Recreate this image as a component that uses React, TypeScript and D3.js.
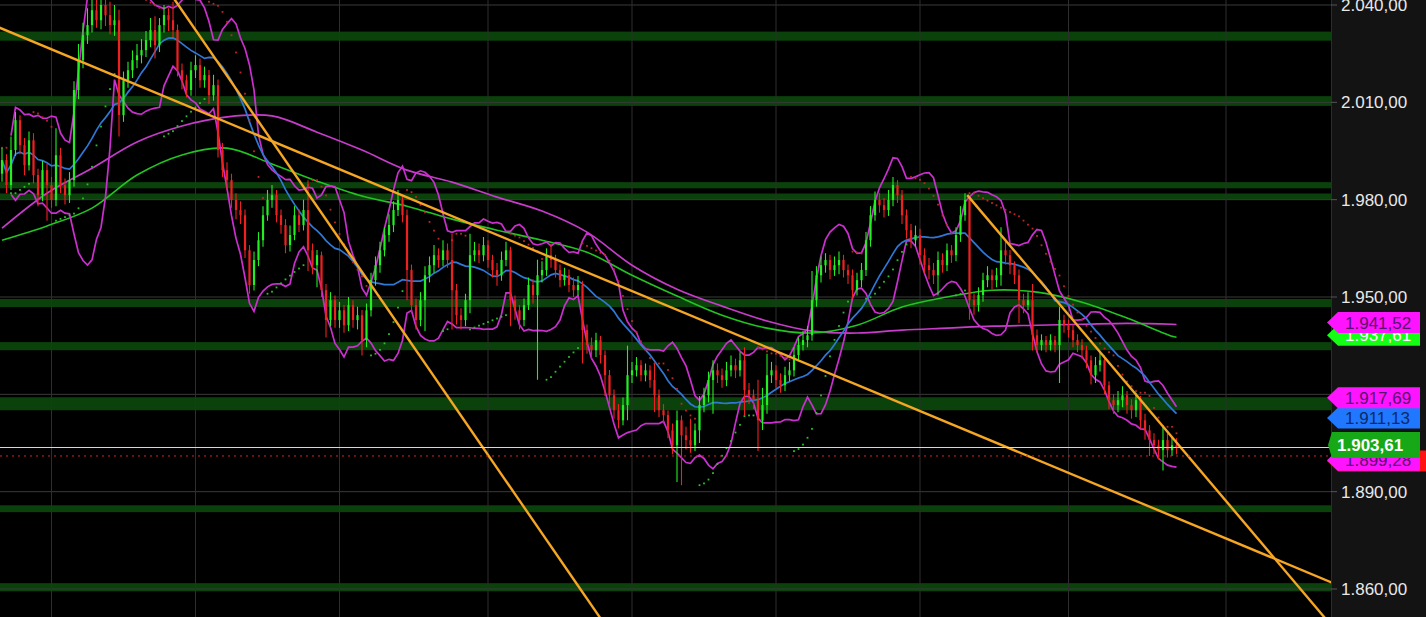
import React from "react";
import * as d3 from "d3";

const W = 1426;
const H = 617;
const PLOT_R = 1331;

// ---------- data ----------
const priceTicks = [2040, 2010, 1980, 1950, 1920, 1890, 1860];

const closes = [
  1992.2,1984.5,1995.3,2004.5,1996.8,1990.6,1998.3,1987.6,1981.4,1989.1,
  1984.5,1979.9,1993.7,1984.5,1981.4,1986.0,2013.8,2023.0,2030.7,2033.8,
  2038.4,2035.3,2040.0,2036.9,2033.8,2035.3,2006.1,2016.8,2019.9,2023.0,
  2024.5,2026.1,2029.2,2032.3,2027.6,2033.8,2036.9,2035.3,2032.3,2019.9,
  2016.8,2013.8,2019.9,2021.5,2016.8,2018.4,2012.2,2015.3,1995.3,1989.1,
  1986.0,1979.9,1976.8,1975.2,1964.4,1953.7,1961.4,1967.5,1975.2,1979.9,
  1981.4,1975.2,1972.2,1966.0,1969.1,1975.2,1972.2,1976.8,1964.4,1959.8,
  1962.9,1952.1,1942.9,1949.0,1942.9,1945.9,1941.3,1947.5,1942.9,1944.4,
  1936.7,1945.9,1955.2,1959.8,1964.4,1969.1,1972.2,1976.8,1979.9,1975.2,
  1958.3,1947.5,1942.9,1949.0,1956.7,1959.8,1962.9,1961.4,1964.4,1961.4,
  1952.1,1944.4,1942.9,1949.0,1962.9,1964.4,1962.9,1966.0,1961.4,1958.3,
  1956.7,1961.4,1964.4,1949.0,1945.9,1942.9,1947.5,1953.7,1950.6,1956.7,
  1958.3,1962.9,1961.4,1958.3,1955.2,1956.7,1953.7,1952.1,1953.7,1939.8,
  1935.2,1933.6,1936.7,1932.1,1925.9,1919.7,1915.1,1912.0,1916.7,1925.9,
  1927.4,1929.0,1925.9,1927.4,1924.4,1919.7,1915.1,1913.6,1908.9,1904.3,
  1912.0,1907.4,1905.9,1904.3,1908.9,1916.7,1919.7,1924.4,1927.4,1925.9,
  1924.4,1927.4,1929.0,1927.4,1930.5,1921.3,1919.7,1918.2,1912.0,1916.7,
  1925.9,1927.4,1924.4,1922.8,1925.9,1927.4,1932.1,1935.2,1936.7,1938.2,
  1949.0,1956.7,1959.8,1961.4,1958.3,1959.8,1961.4,1958.3,1956.7,1952.1,
  1955.2,1958.3,1967.5,1975.2,1979.9,1978.3,1976.8,1979.9,1984.5,1981.4,
  1975.2,1970.6,1967.5,1969.1,1962.9,1959.8,1958.3,1956.7,1961.4,1959.8,
  1964.4,1962.9,1969.1,1975.2,1979.9,1949.0,1947.5,1950.6,1955.2,1956.7,
  1955.2,1956.7,1964.4,1962.9,1959.8,1956.7,1949.0,1947.5,1949.0,1938.2,
  1935.2,1936.7,1935.2,1936.7,1935.2,1942.9,1941.3,1939.8,1936.7,1935.2,
  1933.6,1930.5,1925.9,1929.0,1930.5,1922.8,1918.2,1916.7,1918.2,1919.7,
  1916.7,1915.1,1918.2,1912.0,1908.9,1905.9,1904.3,1902.8,1905.9,1902.8,
  1904.3,1903.61,
];

const opens = [
  1988.0,1992.2,1984.5,1995.3,2004.5,1996.8,1990.6,1998.3,1987.6,1981.4,
  1989.1,1984.5,1979.9,1993.7,1984.5,1981.4,1986.0,2013.8,2023.0,2030.7,
  2033.8,2038.4,2035.3,2040.0,2036.9,2033.8,2035.3,2006.1,2016.8,2019.9,
  2023.0,2024.5,2026.1,2029.2,2032.3,2027.6,2033.8,2036.9,2035.3,2032.3,
  2019.9,2016.8,2013.8,2019.9,2021.5,2016.8,2018.4,2012.2,2015.3,1995.3,
  1989.1,1986.0,1979.9,1976.8,1975.2,1964.4,1953.7,1961.4,1967.5,1975.2,
  1979.9,1981.4,1975.2,1972.2,1966.0,1969.1,1975.2,1972.2,1976.8,1964.4,
  1959.8,1962.9,1952.1,1942.9,1949.0,1942.9,1945.9,1941.3,1947.5,1942.9,
  1944.4,1936.7,1945.9,1955.2,1959.8,1964.4,1969.1,1972.2,1976.8,1979.9,
  1975.2,1958.3,1947.5,1942.9,1949.0,1956.7,1959.8,1962.9,1961.4,1964.4,
  1961.4,1952.1,1944.4,1942.9,1949.0,1962.9,1964.4,1962.9,1966.0,1961.4,
  1958.3,1956.7,1961.4,1964.4,1949.0,1945.9,1942.9,1947.5,1953.7,1950.6,
  1956.7,1958.3,1962.9,1961.4,1958.3,1955.2,1956.7,1953.7,1952.1,1953.7,
  1939.8,1935.2,1933.6,1936.7,1932.1,1925.9,1919.7,1915.1,1912.0,1916.7,
  1925.9,1927.4,1929.0,1925.9,1927.4,1924.4,1919.7,1915.1,1913.6,1908.9,
  1904.3,1912.0,1907.4,1905.9,1904.3,1908.9,1916.7,1919.7,1924.4,1927.4,
  1925.9,1924.4,1927.4,1929.0,1927.4,1930.5,1921.3,1919.7,1918.2,1912.0,
  1916.7,1925.9,1927.4,1924.4,1922.8,1925.9,1927.4,1932.1,1935.2,1936.7,
  1938.2,1949.0,1956.7,1959.8,1961.4,1958.3,1959.8,1961.4,1958.3,1956.7,
  1952.1,1955.2,1958.3,1967.5,1975.2,1979.9,1978.3,1976.8,1979.9,1984.5,
  1981.4,1975.2,1970.6,1967.5,1969.1,1962.9,1959.8,1958.3,1956.7,1961.4,
  1959.8,1964.4,1962.9,1969.1,1975.2,1979.9,1949.0,1947.5,1950.6,1955.2,
  1956.7,1955.2,1956.7,1964.4,1962.9,1959.8,1956.7,1949.0,1947.5,1949.0,
  1938.2,1935.2,1936.7,1935.2,1936.7,1935.2,1942.9,1941.3,1939.8,1936.7,
  1935.2,1933.6,1930.5,1925.9,1929.0,1930.5,1922.8,1918.2,1916.7,1918.2,
  1919.7,1916.7,1915.1,1918.2,1912.0,1908.9,1905.9,1904.3,1902.8,1905.9,
  1902.8,1904.3,
];

const highs = [
  1996.0,1994.0,1999.5,2007.0,2006.0,1999.0,2001.0,2000.5,1989.5,1992.0,
  1991.0,1987.0,2002.0,1996.0,1986.5,1988.5,2016.5,2028.0,2034.5,2039.0,
  2045.0,2043.5,2047.0,2044.0,2041.0,2040.0,2038.5,2019.5,2022.5,2026.0,
  2028.0,2029.5,2032.0,2036.0,2036.5,2036.0,2040.0,2039.0,2041.0,2034.0,
  2022.0,2018.5,2022.5,2024.5,2023.5,2021.0,2020.0,2018.5,2017.0,1997.5,
  1991.5,1988.0,1982.0,1979.5,1977.0,1966.0,1964.0,1970.0,1978.0,1983.0,
  1984.5,1983.0,1977.0,1974.0,1972.0,1978.0,1977.0,1980.0,1986.0,1966.5,
  1964.5,1964.0,1954.0,1951.5,1950.5,1948.5,1947.5,1950.0,1949.0,1947.0,
  1946.0,1948.0,1957.5,1962.5,1967.0,1971.5,1975.5,1979.5,1983.0,1981.5,
  1977.0,1960.0,1949.5,1951.5,1959.5,1962.5,1966.0,1965.0,1967.5,1966.5,
  1969.5,1954.0,1946.5,1951.0,1969.5,1967.0,1966.5,1968.5,1967.5,1963.0,
  1960.5,1964.0,1967.0,1965.5,1950.5,1947.5,1949.5,1956.0,1955.5,1961.5,
  1961.0,1965.0,1966.5,1963.0,1960.0,1959.0,1958.5,1956.0,1956.5,1955.0,
  1941.5,1937.5,1939.0,1938.0,1933.5,1927.5,1921.5,1917.0,1919.0,1935.0,
  1930.0,1931.5,1930.5,1929.5,1929.0,1929.5,1921.5,1917.0,1915.0,1911.0,
  1915.0,1913.5,1910.0,1912.5,1911.0,1919.5,1922.0,1927.0,1930.5,1929.5,
  1928.0,1930.0,1932.0,1931.0,1933.0,1934.5,1923.5,1921.5,1924.5,1922.0,
  1932.5,1930.0,1929.0,1926.5,1928.5,1930.0,1934.5,1937.5,1939.5,1941.0,
  1958.0,1959.5,1962.5,1963.5,1963.0,1962.5,1964.0,1963.0,1960.0,1958.5,
  1957.5,1960.5,1970.0,1978.0,1982.5,1982.0,1980.5,1983.0,1987.0,1986.0,
  1983.0,1977.0,1972.5,1972.0,1971.0,1965.0,1962.0,1960.5,1964.0,1963.5,
  1966.5,1966.0,1971.5,1978.0,1982.0,1981.0,1951.0,1953.0,1957.5,1959.5,
  1958.5,1959.0,1971.5,1967.0,1964.5,1961.0,1958.5,1951.0,1951.5,1954.0,
  1940.0,1938.5,1938.0,1938.5,1938.0,1947.0,1944.5,1943.0,1941.5,1938.5,
  1937.0,1935.0,1932.0,1931.5,1933.0,1932.0,1924.0,1920.0,1921.0,1922.5,
  1921.0,1918.5,1920.5,1919.5,1914.0,1910.5,1908.0,1906.0,1910.0,1908.0,
  1907.0,1906.5,
];

const lows = [
  1985.5,1982.0,1983.0,1993.5,1994.0,1987.5,1989.0,1985.0,1978.0,1979.5,
  1973.5,1977.5,1978.0,1982.0,1978.5,1979.0,1984.0,2011.0,2020.5,2028.0,
  2031.5,2033.0,2032.5,2033.5,2031.0,2030.5,1999.5,2004.0,2014.5,2017.5,
  2020.5,2022.0,2024.0,2027.0,2023.5,2025.5,2031.5,2032.0,2030.0,2018.0,
  2014.0,2011.5,2012.0,2017.5,2014.5,2014.5,2009.5,2010.5,1993.0,1987.0,
  1983.0,1977.5,1974.0,1972.5,1962.0,1951.0,1952.0,1959.5,1965.5,1973.5,
  1977.5,1973.0,1969.5,1963.5,1964.0,1967.5,1970.0,1970.5,1958.0,1957.0,
  1953.0,1950.0,1937.5,1941.0,1940.5,1940.5,1939.0,1939.5,1940.5,1940.0,
  1932.0,1934.5,1944.0,1953.5,1957.5,1962.5,1967.0,1970.0,1975.0,1973.0,
  1949.0,1945.0,1940.0,1941.0,1939.5,1954.5,1957.5,1959.0,1959.5,1959.0,
  1940.0,1941.5,1940.0,1941.0,1945.0,1961.0,1960.5,1961.0,1959.0,1956.0,
  1953.5,1955.0,1959.5,1941.0,1943.0,1940.0,1941.0,1946.0,1948.0,1924.5,
  1954.5,1956.5,1959.0,1956.0,1953.0,1953.5,1951.5,1950.0,1950.5,1929.5,
  1932.5,1931.0,1931.5,1929.5,1919.5,1917.0,1912.5,1909.5,1910.5,1912.0,
  1923.5,1925.5,1924.0,1924.0,1922.0,1914.5,1913.0,1911.0,1906.5,1901.5,
  1893.0,1892.0,1903.0,1902.0,1902.5,1905.0,1914.5,1917.5,1914.0,1923.5,
  1922.0,1922.5,1925.5,1925.0,1925.5,1913.5,1917.0,1915.5,1902.5,1909.0,
  1914.0,1923.5,1922.0,1920.5,1921.0,1924.0,1925.5,1930.5,1933.5,1934.5,
  1936.5,1947.0,1954.5,1957.5,1955.5,1956.5,1957.0,1956.0,1954.0,1949.5,
  1950.5,1953.0,1956.5,1965.5,1973.5,1976.0,1974.5,1975.0,1978.0,1979.0,
  1972.5,1968.0,1965.0,1965.5,1960.0,1957.5,1955.5,1954.0,1950.5,1957.5,
  1958.0,1960.5,1961.0,1967.0,1973.5,1943.0,1944.5,1945.5,1948.5,1953.0,
  1952.5,1953.0,1953.5,1960.0,1957.0,1954.0,1942.0,1945.0,1946.0,1933.5,
  1933.0,1933.5,1933.0,1933.5,1933.0,1923.5,1939.0,1937.5,1934.5,1933.0,
  1931.0,1928.0,1923.0,1923.5,1927.0,1920.0,1915.5,1914.0,1914.5,1916.0,
  1914.0,1912.5,1913.0,1909.5,1906.0,1901.0,1901.5,1900.0,1896.5,1900.5,
  1901.0,1901.5,
];

// long moving averages at these bar indices
const longMaBars = [0,10,20,30,40,50,60,70,80,90,100,110,120,130,140,150,160,170,180,190,200,210,220,230,240,250,260,261];
const maGreen = [1967.5,1971.9,1977.4,1987.6,1993.8,1995.9,1991.0,1985.7,1981.1,1978.0,1974.0,1970.6,1967.5,1963.8,1956.7,1950.3,1944.4,1940.4,1938.9,1941.3,1946.9,1950.0,1952.1,1951.5,1948.4,1943.5,1937.9,1937.61];
const maMagenta = [1971.2,1982.0,1989.7,1997.8,2002.7,2005.5,2005.8,2000.8,1995.3,1989.1,1985.4,1980.8,1976.5,1970.0,1959.8,1952.4,1947.2,1942.6,1939.5,1938.9,1939.8,1940.4,1941.0,1941.3,1941.6,1941.9,1941.6,1941.52];

// support / resistance zones
const zoneLow = [2029.0, 2008.9, 1983.5, 1980.0, 1946.9, 1933.6, 1915.1, 1883.7, 1859.3];
const zoneHigh = [2031.8, 2011.9, 1985.4, 1981.9, 1949.4, 1936.1, 1919.1, 1885.8, 1861.8];

// time grid (bar indices)
const timeGridBars = [11, 43, 75, 108, 140, 172, 204, 237, 272];

// trend lines: two anchors each (bar, price); extendLeft flag
const trendBarA = [0, 38, 214.5];
const trendPriceA = [2032.7, 2042.4, 1981.4];
const trendBarB = [260, 130, 260];
const trendPriceB = [1882.5, 1857.0, 1906.8];
const trendExtendLeft = [true, true, false];

const lastPrice = 1903.61;
const refPrice = 1901.0;

// price badges on the axis (drawn in this order)
const badgeValues = [1901.0, 1937.61, 1941.52, 1899.28, 1911.13, 1917.69, 1903.61];
const badgeFill = ["#ff1414", "#14ff14", "#ff14ff", "#ff14ff", "#1f78ff", "#ff14ff", "#17a817"];
const badgeInk = ["#ffffff", "#ffffff", "#5a126e", "#5a126e", "#0d2a66", "#5a126e", "#ffffff"];
const badgeNudge = [5, -2, -2, -1.2, -5, -4, -2.4];

// ---------- helpers ----------
const locale = d3.formatLocale({ decimal: ",", thousands: ".", grouping: [3], currency: ["", ""] });
const fmt = locale.format(",.2f");

function sma(values: number[], period: number) {
  return values.map((_, i) => d3.mean(values.slice(Math.max(0, i - period + 1), i + 1)) as number);
}

function bollinger(values: number[], period: number, mult: number) {
  const up: number[] = [];
  const lo: number[] = [];
  values.forEach((_, i) => {
    const win = values.slice(Math.max(0, i - period + 1), i + 1);
    const m = d3.mean(win) as number;
    const sd = Math.sqrt(d3.mean(win.map((v) => (v - m) * (v - m))) as number);
    up.push(m + mult * sd);
    lo.push(m - mult * sd);
  });
  return { up, lo };
}

function psar(h: number[], l: number[], step = 0.02, max = 0.2) {
  const out: { v: number; up: boolean }[] = [];
  let up = false;
  let af = step;
  let ep = l[0];
  let sar = h[0];
  out.push({ v: sar, up });
  for (let i = 1; i < h.length; i++) {
    sar = sar + af * (ep - sar);
    if (up) {
      sar = Math.min(sar, l[i - 1], i > 1 ? l[i - 2] : l[i - 1]);
      if (l[i] < sar) {
        up = false; sar = ep; ep = l[i]; af = step;
      } else if (h[i] > ep) {
        ep = h[i]; af = Math.min(af + step, max);
      }
    } else {
      sar = Math.max(sar, h[i - 1], i > 1 ? h[i - 2] : h[i - 1]);
      if (h[i] > sar) {
        up = true; sar = ep; ep = h[i]; af = step;
      } else if (l[i] < ep) {
        ep = l[i]; af = Math.min(af + step, max);
      }
    }
    out.push({ v: sar, up });
  }
  return out;
}

export default function App() {
  const n = closes.length;
  const x = d3.scaleLinear().domain([0, n - 1]).range([2, 1176.5]);
  const y = d3.scaleLinear().domain([2040, 1860]).range([5, 589]);

  const blue = sma(closes, 20);
  const bb = bollinger(closes, 10, 2);
  const sar = psar(highs, lows);

  const idx = d3.range(n);
  const lineIdx = (arr: number[], from = 0) =>
    d3.line<number>().x((i) => x(i)).y((i) => y(arr[i]))(idx.slice(from)) || "";

  const smooth = d3
    .line<[number, number]>()
    .x((d) => x(d[0]))
    .y((d) => y(d[1]))
    .curve(d3.curveCatmullRom.alpha(0.5));

  const greenPath = smooth(longMaBars.map((b, i) => [b, maGreen[i]] as [number, number])) || "";
  const magentaPath = smooth(longMaBars.map((b, i) => [b, maMagenta[i]] as [number, number])) || "";

  const trendLines = trendBarA.map((_, k) => {
    const x1 = x(trendBarA[k]);
    const y1 = y(trendPriceA[k]);
    const x2 = x(trendBarB[k]);
    const y2 = y(trendPriceB[k]);
    const s = (y2 - y1) / (x2 - x1);
    const xs = trendExtendLeft[k] ? -20 : x1;
    const xe = PLOT_R + 20;
    return { xs, ys: y1 + s * (xs - x1), xe, ye: y1 + s * (xe - x1) };
  });

  const green = "#22ee22";
  const red = "#ee2020";

  return (
    <div style={{ position: "fixed", left: 0, top: 0, width: W, height: H, background: "#000" }}>
      <svg width={W} height={H} style={{ display: "block" }} fontFamily="'Liberation Sans', Arial, sans-serif">
        <defs>
          <clipPath id="plot">
            <rect x={0} y={0} width={PLOT_R} height={H} />
          </clipPath>
        </defs>
        <rect x={0} y={0} width={W} height={H} fill="#000" />

        <g clipPath="url(#plot)">
          {zoneLow.map((lo, i) => (
            <rect key={"z" + i} x={0} width={PLOT_R} y={y(zoneHigh[i])} height={y(lo) - y(zoneHigh[i])} fill="#0b420b" />
          ))}
          {priceTicks.map((t) => (
            <line key={"hg" + t} x1={0} x2={PLOT_R} y1={y(t)} y2={y(t)} stroke="#3a3a3a" strokeWidth={1} />
          ))}
          {timeGridBars.map((b) => (
            <line key={"vg" + b} x1={x(b)} x2={x(b)} y1={0} y2={H} stroke="#2e2e2e" strokeWidth={1} />
          ))}

          <path d={magentaPath} fill="none" stroke="#c83ccb" strokeWidth={1.7} />
          <path d={greenPath} fill="none" stroke="#22c422" strokeWidth={1.6} />
          <path d={lineIdx(bb.up, 2)} fill="none" stroke="#cc2fcf" strokeWidth={1.7} />
          <path d={lineIdx(bb.lo, 2)} fill="none" stroke="#cc2fcf" strokeWidth={1.7} />
          <path d={lineIdx(blue)} fill="none" stroke="#2f78d6" strokeWidth={1.7} />

          {sar.map((s, i) => (
            <rect key={"s" + i} x={x(i) - 0.9} y={y(s.v) - 0.9} width={1.8} height={1.8} fill={s.up ? "#2bbf2b" : "#c42424"} />
          ))}

          {idx.map((i) => {
            const up = closes[i] >= opens[i];
            const c = up ? green : red;
            const top = y(Math.max(opens[i], closes[i]));
            const bot = y(Math.min(opens[i], closes[i]));
            return (
              <g key={"c" + i}>
                <line x1={x(i)} x2={x(i)} y1={y(highs[i])} y2={y(lows[i])} stroke={c} strokeWidth={1.1} />
                <rect x={x(i) - 1.1} width={2.2} y={top} height={Math.max(1, bot - top)} fill={c} />
              </g>
            );
          })}

          {trendLines.map((t, k) => (
            <line key={"t" + k} x1={t.xs} y1={t.ys} x2={t.xe} y2={t.ye} stroke="#f5a623" strokeWidth={2.4} />
          ))}

          <line x1={0} x2={PLOT_R} y1={y(lastPrice)} y2={y(lastPrice)} stroke="#d8d8d8" strokeWidth={1} />
          <line x1={0} x2={PLOT_R} y1={y(refPrice)} y2={y(refPrice)} stroke="#e02020" strokeWidth={1} strokeDasharray="2,4" />
        </g>

        {/* price axis */}
        <rect x={PLOT_R} y={0} width={W - PLOT_R} height={H} fill="#131313" />
        <line x1={PLOT_R + 0.5} x2={PLOT_R + 0.5} y1={0} y2={H} stroke="#2c2c2c" />
        {priceTicks.map((t) => (
          <g key={"at" + t}>
            <line x1={PLOT_R} x2={PLOT_R + 6} y1={y(t)} y2={y(t)} stroke="#555" />
            <text x={1341} y={y(t)} dy="0.35em" fill="#e8e8e8" fontSize={17}>
              {fmt(t)}
            </text>
          </g>
        ))}

        {badgeValues.map((v, i) => {
          const cy = y(v) + badgeNudge[i];
          const last = i === badgeValues.length - 1;
          const hh = last ? 13 : 10.5;
          const right = i === 0 ? W : 1420;
          const pts = last
            ? [[1328, cy], [1332, cy - hh], [right, cy - hh], [right, cy + hh], [1332, cy + hh]]
            : [[1327, cy], [1338, cy - hh], [right, cy - hh], [right, cy + hh], [1338, cy + hh]];
          return (
            <g key={"b" + i}>
              <polygon points={pts.map((p) => p.join(",")).join(" ")} fill={badgeFill[i]} />
              <text
                x={last ? 1337 : 1345}
                y={cy}
                dy="0.36em"
                fill={badgeInk[i]}
                fontSize={17}
                fontWeight={last ? "bold" : "normal"}
              >
                {fmt(v)}
              </text>
            </g>
          );
        })}
      </svg>
    </div>
  );
}
